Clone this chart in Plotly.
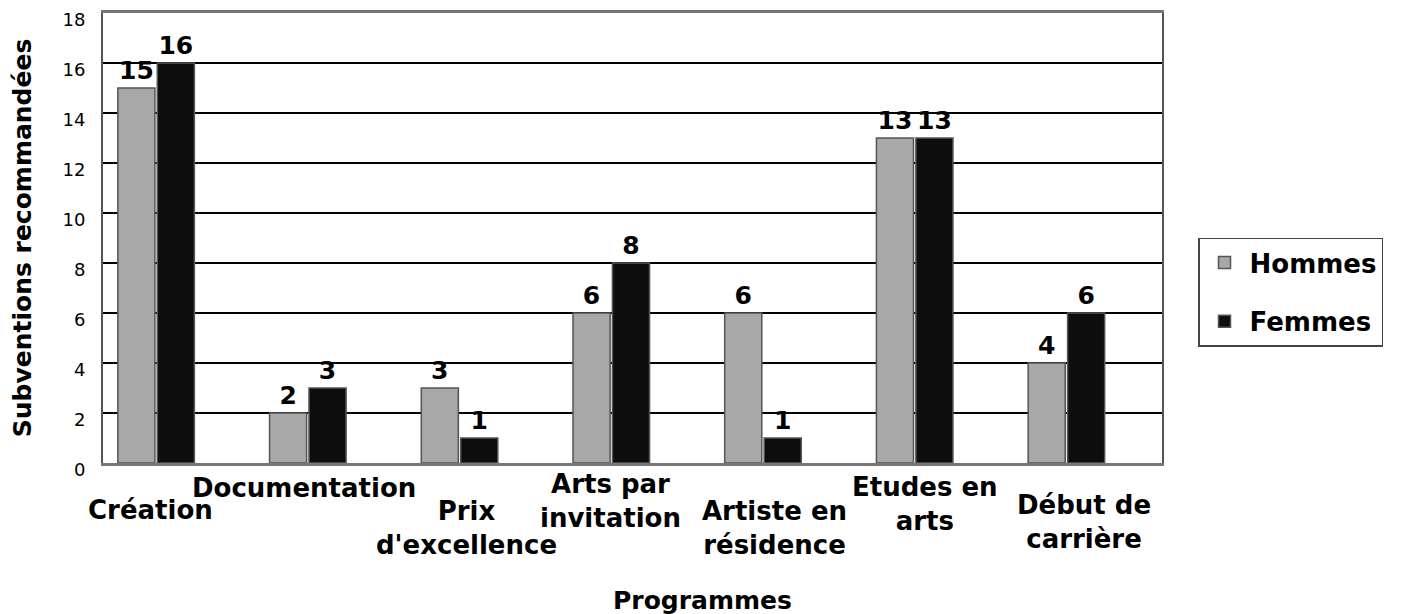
import plotly.graph_objects as go

programmes = ["Création", "Documentation", "Prix<br>d'excellence", "Arts par<br>invitation",
              "Artiste en<br>résidence", "Etudes en<br>arts", "Début de<br>carrière"]
hommes = [15, 2, 3, 6, 6, 13, 4]
femmes = [16, 3, 1, 8, 1, 13, 6]

FONT = "DejaVu Sans"
idx = list(range(len(programmes)))

fig = go.Figure()
fig.add_trace(go.Bar(
    x=idx, y=hommes, name="Hommes", legendgroup="h",
    marker=dict(color="#a8a8a8", line=dict(color="#555555", width=1.5)),
    text=hommes, textposition="outside", cliponaxis=False,
    textfont=dict(family=FONT, size=25, color="black", weight="bold"),
))
fig.add_trace(go.Bar(
    x=idx, y=femmes, name="Femmes", legendgroup="f",
    marker=dict(color="#0d0d0d", line=dict(color="#555555", width=1.5)),
    text=femmes, textposition="outside", cliponaxis=False,
    textfont=dict(family=FONT, size=25, color="black", weight="bold"),
))

# staggered category labels (pixel offsets below the axis)
label_pos = [(-6, -47), (-4, -25), (7, -65), (-1, -38), (12, -65), (10, -41), (18, -59)]
for i, name in enumerate(programmes):
    dx, dy = label_pos[i]
    fig.add_annotation(
        x=i, y=0, xref="x", yref="y", text=name, showarrow=False,
        xshift=dx, yshift=dy, yanchor="middle",
        font=dict(family=FONT, size=26, color="black", weight="bold"),
    )

fig.add_annotation(
    x=0.566, y=0, xref="paper", yref="y", text="Programmes", showarrow=False,
    yanchor="middle", yshift=-137,
    font=dict(family=FONT, size=25, color="black", weight="bold"),
)

fig.update_layout(
    width=1386, height=606,
    margin=dict(l=95, r=232, t=2, b=151),
    paper_bgcolor="white", plot_bgcolor="white",
    barmode="group", bargap=0.48, bargroupgap=0.06,
    font=dict(family=FONT, color="black"),
    xaxis=dict(range=[-0.35, 6.63], showticklabels=False, showgrid=False, zeroline=False,
               showline=True, linecolor="#777777", linewidth=3, mirror=True),
    yaxis=dict(range=[0, 18], dtick=2, showgrid=True, gridcolor="black", gridwidth=2,
               zeroline=False, showline=True, linecolor="#555555", linewidth=2, mirror=True,
               ticks="", ticklabelstandoff=12, ticklabelshift=7, automargin=False,
               tickfont=dict(family=FONT, size=18, color="black"),
               title=dict(text="Subventions recommandées", standoff=24,
                          font=dict(family=FONT, size=25, color="black", weight="bold"))),
    legend=dict(x=1.034, y=0.38, xanchor="left", yanchor="middle",
                bordercolor="#444444", borderwidth=1.5, bgcolor="white",
                font=dict(family=FONT, size=26, color="black", weight="bold"),
                itemwidth=40, tracegroupgap=22),
    showlegend=True,
)

fig.write_html("out.html")
